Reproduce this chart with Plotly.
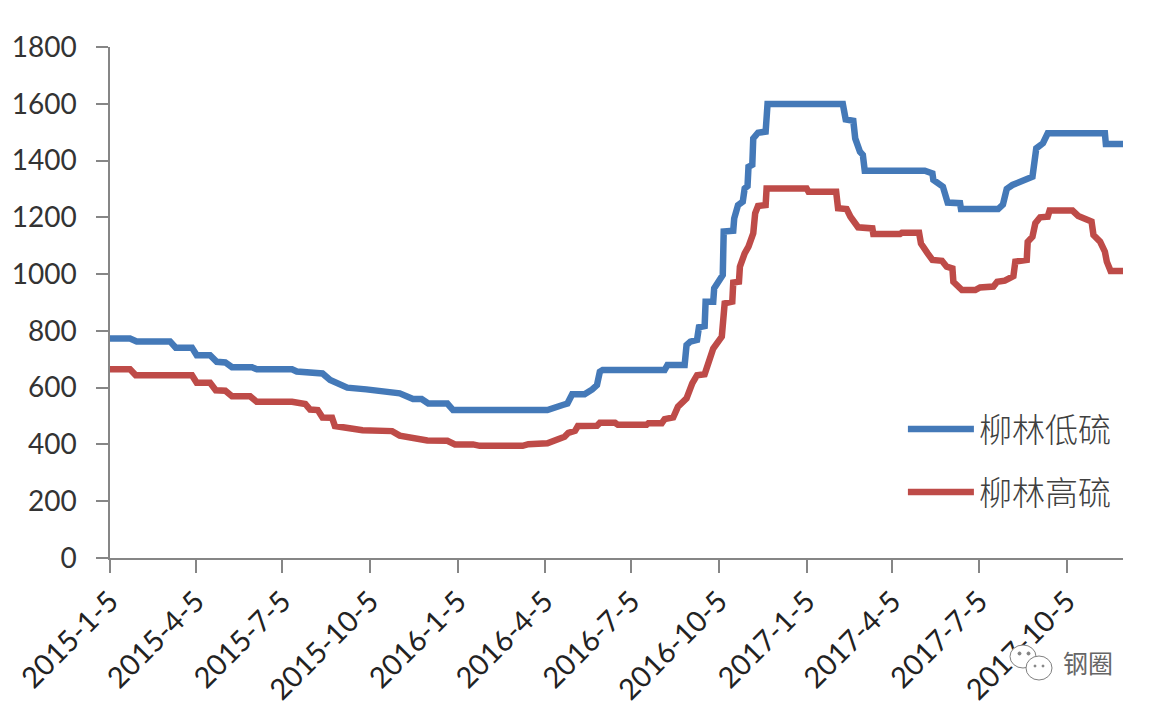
import pandas as pd
import plotly.graph_objects as go

START = "2015-01-05"
tick_labels = ["2015-1-5", "2015-4-5", "2015-7-5", "2015-10-5", "2016-1-5", "2016-4-5",
               "2016-7-5", "2016-10-5", "2017-1-5", "2017-4-5", "2017-7-5", "2017-10-5"]
y_ticks = [0, 200, 400, 600, 800, 1000, 1200, 1400, 1600, 1800]

# days since START
low_days = [0, 21, 28, 63, 69, 86, 91, 105, 112, 121, 128, 149, 154, 191, 196, 210, 223, 231, 249, 269,
            304, 318, 327, 334, 354, 360, 459, 475, 480, 485, 498, 506, 511, 514, 517, 582, 585, 603, 605,
            609, 616, 618, 624, 625, 633, 634, 643, 644, 654, 655, 659, 664, 666, 669, 670, 674, 675, 680, 688, 690,
            769, 772, 780, 782, 787, 790, 792, 855, 863, 864, 874, 879, 892, 893, 932, 937, 941, 947, 953,
            965, 968, 972, 979, 984, 1044, 1045, 1063]
low_values = [773, 773, 763, 763, 741, 741, 714, 714, 691, 689, 672, 672, 665, 665, 657, 656, 650, 627, 600, 594,
              580, 560, 560, 544, 544, 521, 521, 539, 544, 577, 577, 594, 609, 656, 662, 662, 680, 680, 750,
              762, 768, 813, 817, 903, 903, 950, 997, 1150, 1153, 1196, 1243, 1255, 1302, 1310, 1378, 1385, 1478, 1498, 1502, 1599,
              1599, 1545, 1540, 1478, 1431, 1420, 1364, 1364, 1355, 1332, 1308, 1252, 1250, 1229, 1229, 1245, 1300, 1314, 1322,
              1337, 1343, 1443, 1461, 1496, 1496, 1458, 1458]

high_days = [0, 21, 27, 86, 91, 105, 111, 121, 128, 147, 154, 191, 205, 210, 218, 223, 233, 236, 265, 296,
             304, 318, 333, 354, 362, 381, 388, 433, 439, 459, 477, 481, 488, 491, 511, 514, 530, 533, 563, 565,
             579, 582, 591, 596, 605, 611, 616, 624, 630, 633, 642, 645, 653, 654, 660, 661, 666, 670, 675, 677,
             680, 688, 689, 731, 733, 762, 764, 773, 777, 785, 800, 801, 829, 831, 849, 851, 858, 863, 873, 878,
             884, 885, 894, 908, 913, 927, 931, 939, 948, 950, 962, 963, 968, 971, 976, 984, 986, 1010, 1016, 1030,
             1032, 1039, 1044, 1046, 1050, 1063]
high_values = [665, 665, 644, 644, 617, 617, 591, 589, 570, 570, 550, 550, 542, 523, 521, 495, 494, 465, 450, 447,
               431, 420, 414, 413, 400, 400, 395, 395, 401, 404, 427, 441, 448, 465, 466, 476, 476, 469, 469, 475,
               475, 489, 495, 533, 562, 615, 644, 647, 703, 738, 780, 897, 903, 970, 973, 1026, 1073, 1097, 1144, 1214,
               1240, 1243, 1302, 1302, 1290, 1290, 1232, 1229, 1202, 1165, 1161, 1141, 1141, 1146, 1146, 1108, 1073, 1050, 1047, 1026,
               1020, 973, 944, 944, 953, 956, 973, 977, 993, 1044, 1050, 1114, 1132, 1179, 1200, 1202, 1224, 1224, 1205, 1185,
               1138, 1114, 1079, 1044, 1011, 1011]

base = pd.Timestamp(START)
to_dates = lambda days: [base + pd.Timedelta(days=d) for d in days]
tick_dates = [pd.Timestamp(t) for t in tick_labels]

# pixel-to-paper helpers for the watermark decoration only
px = lambda v: (v - 110) / 1013
py = lambda v: (558 - v) / 511


def bubble(x0, x1, y0, y1, fill="white", color="#808080"):
    return dict(type="circle", xref="paper", yref="paper", x0=px(x0), x1=px(x1), y0=py(y1), y1=py(y0),
                line=dict(color=color, width=1), fillcolor=fill)


fig = go.Figure()
fig.add_trace(go.Scatter(x=to_dates(low_days), y=low_values, name="柳林低硫", mode="lines",
                         legendgroup="a", line=dict(color="#4479b8", width=6.5)))
fig.add_trace(go.Scatter(x=to_dates(high_days), y=high_values, name="柳林高硫", mode="lines",
                         legendgroup="b", line=dict(color="#be4b48", width=6.5)))

fig.update_layout(
    width=1137, height=697, autosize=False,
    margin=dict(l=102, r=22, t=39, b=147),
    paper_bgcolor="white", plot_bgcolor="white",
    font=dict(family="Lato, 'Noto Sans CJK SC'", color="#333333"),
    legend=dict(x=0.993, y=0.307, xanchor="right", yanchor="top", bgcolor="rgba(0,0,0,0)",
                font=dict(family="'Noto Sans CJK SC'", size=33, color="#404040", weight=300),
                itemwidth=66, tracegroupgap=17, itemsizing="trace"),
    xaxis=dict(type="date", range=[base, base + pd.Timedelta(days=1063)], automargin=False,
               tickmode="array", tickvals=tick_dates, ticktext=tick_labels,
               tickangle=-45, tickfont=dict(size=29, color="#222222"),
               ticks="outside", ticklen=13, tickcolor="#868686", tickwidth=1.5,
               showline=True, linecolor="#868686", linewidth=1.5, showgrid=False, zeroline=False),
    yaxis=dict(range=[0, 1800], tickmode="array", tickvals=y_ticks, automargin=False,
               tickfont=dict(size=28, color="#333333"), ticklabelstandoff=14,
               ticks="outside", ticklen=12, tickcolor="#868686", tickwidth=1.5,
               showline=True, linecolor="#868686", linewidth=1.5, showgrid=False, zeroline=False),
    annotations=[dict(text="钢圈", xref="paper", yref="paper", x=px(1088), y=py(662),
                      xanchor="center", yanchor="middle", showarrow=False,
                      font=dict(family="'Noto Sans CJK SC'", size=25, color="#666666"))],
    shapes=[
        bubble(1010, 1036, 645, 668),
        bubble(1026, 1052, 656, 680),
        bubble(1018, 1021, 652, 655, fill="#808080"),
        bubble(1027, 1030, 652, 655, fill="#808080"),
        bubble(1034, 1036, 665, 667, fill="#808080"),
        bubble(1042, 1044, 665, 667, fill="#808080"),
    ],
)
fig.write_html("out.html")
